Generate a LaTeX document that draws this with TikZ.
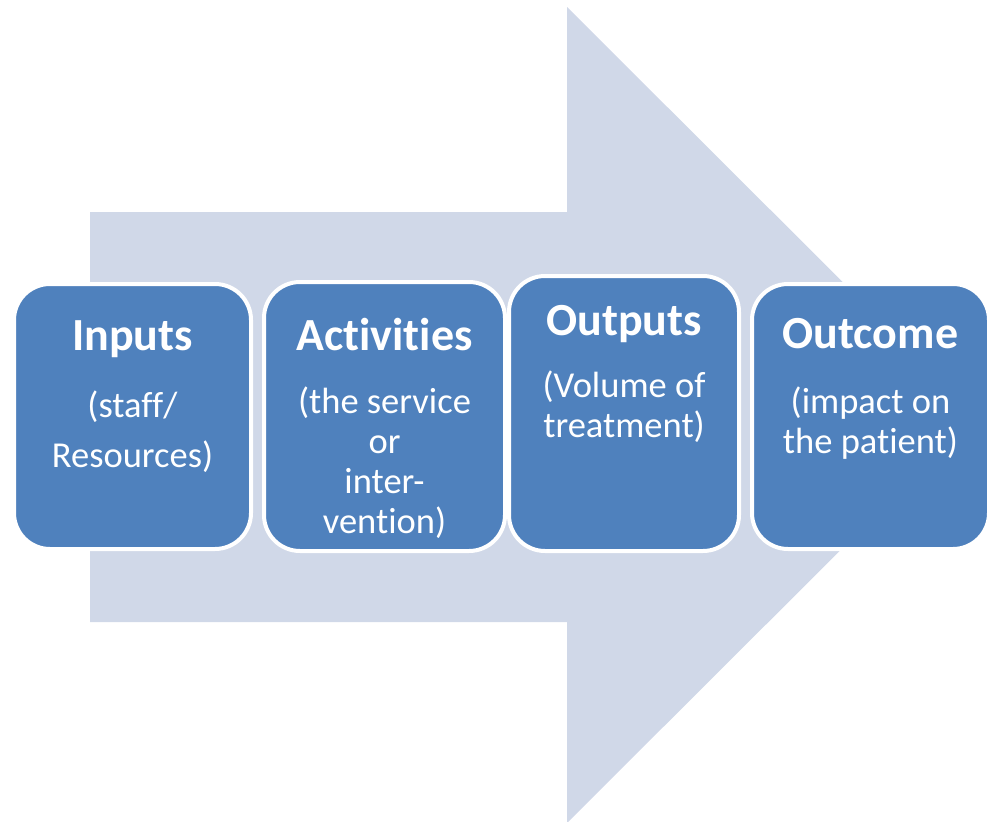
\documentclass[tikz,border=0pt]{standalone}
\usepackage{fontspec}
\setmainfont{Carlito}[Ligatures=NoCommon]
\usepackage{tikz}
\usetikzlibrary{positioning}
\definecolor{chainback}{HTML}{D0D8E8}
\definecolor{chainblue}{HTML}{4F81BD}
\tikzset{
  stage/.style={draw=white, line width=4pt, fill=chainblue, rounded corners=36pt,
                inner sep=0pt},
  head/.style={text=white, font=\fontsize{46}{50}\selectfont\bfseries, anchor=base},
  body/.style={text=white, font=\fontsize{36.5}{40}\selectfont, align=center, anchor=base},
}

\begin{document}
\begin{tikzpicture}[x=1pt, y=-1pt]
  \useasboundingbox (0,0) rectangle (994,822);

  % Background arrow
  \fill[chainback] (90,212) -- (567,212) -- (567,7) -- (976,415)
    -- (567,823) -- (567,622) -- (90,622) -- cycle;

  % Stages
  \node[stage, minimum width=237pt, minimum height=265pt] (in)  at (132.5,416.5) {};
  \node[stage, minimum width=241pt, minimum height=269pt] (act) at (384.5,416.5) {};
  \node[stage, minimum width=230pt, minimum height=275pt] (out) at (624,413.5) {};
  \node[stage, minimum width=237pt, minimum height=265pt] (res) at (870.5,416.5) {};

  % Labels (body nodes sit on the baseline of their last line)
  \node[head] (inhead) at ([yshift=-68pt]in.north) {Inputs};
  \node[body] (inbody) at ([yshift=-185pt]in.north) {(staff/\\[10pt]Resources)};

  \node[head] (acthead) at ([yshift=-70pt]act.north) {Activities};
  \node[body] (actbody) at ([yshift=-253pt]act.north)
    {(the service\\or\\inter-\\vention)};

  \node[head] (outhead) at ([yshift=-61pt]out.north) {Outputs};
  \node[body] (outbody) at ([yshift=-163pt]out.north) {(Volume of\\treatment)};

  \node[head] (reshead) at ([yshift=-66pt]res.north) {Outcome};
  \node[body] (resbody) at ([yshift=-171pt]res.north) {(impact on\\the patient)};
\end{tikzpicture}
\end{document}
